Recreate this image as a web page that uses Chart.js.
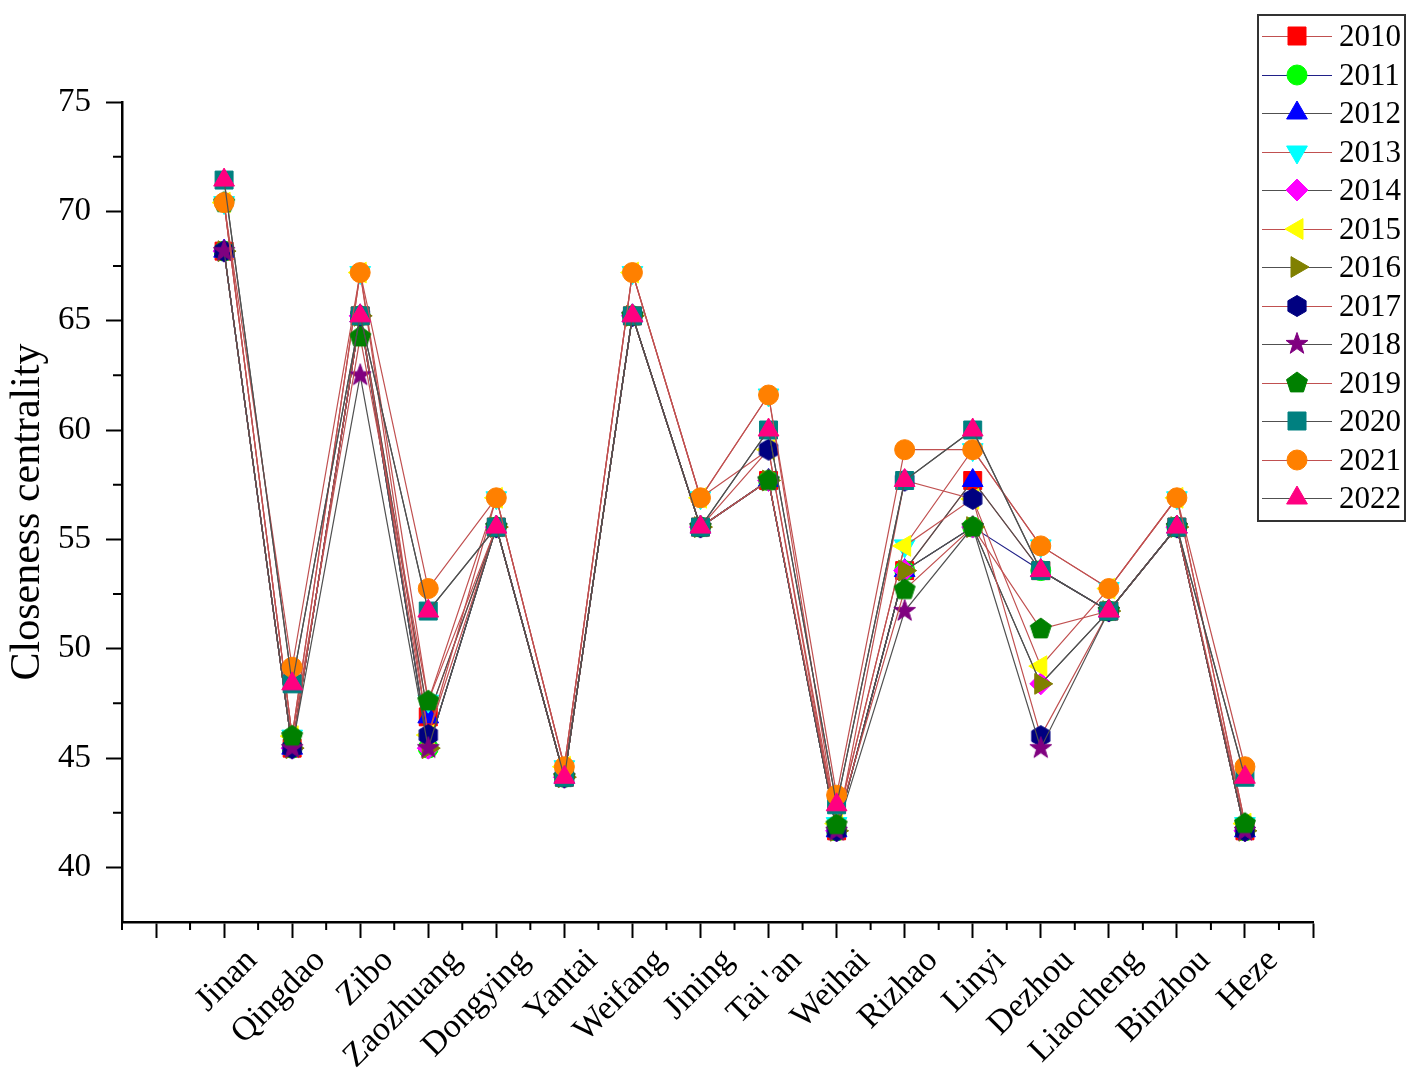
<!DOCTYPE html>
<html>
<head>
<meta charset="utf-8">
<title>Closeness centrality</title>
<script src="https://cdn.jsdelivr.net/npm/chart.js@4.4.1/dist/chart.umd.min.js"></script>
<style>
  html, body { margin: 0; padding: 0; background: #fff; }
  #wrap { position: relative; width: 1418px; height: 1078px; }
  #legend {
    position: absolute; left: 1257px; top: 14px; width: 145px; height: 503px;
    border: 2px solid #333; background: #fff;
    font-family: 'Liberation Serif', 'Times New Roman', serif; font-size: 31px; color: #000;
    padding-top: 1px; box-sizing: content-box;
  }
  .row { height: 38.5px; display: flex; align-items: center; }
  .row canvas { width: 76px; height: 38px; margin-left: 1px; }
  .row span { margin-left: 3px; line-height: 38px; }
</style>
</head>
<body>
<div id="wrap">
  <canvas id="grafik" width="1418" height="1078"></canvas>
  <div id="legend"></div>
</div>
<script>
// kota dan tahun
const cities = ["Jinan", "Qingdao", "Zibo", "Zaozhuang", "Dongying", "Yantai", "Weifang", "Jining",
    "Tai 'an", "Weihai", "Rizhao", "Linyi", "Dezhou", "Liaocheng", "Binzhou", "Heze"];
const years = ["2010", "2011", "2012", "2013", "2014", "2015", "2016", "2017", "2018", "2019", "2020", "2021", "2022"];

// nilai closeness centrality per tahun
const v2010 = [68.18, 45.45, 65.22, 46.88, 55.56, 44.12, 65.22, 55.56, 57.69, 41.67, 53.57, 57.69, 53.57, 51.72, 55.56, 41.67];
const v2011 = [68.18, 45.45, 65.22, 45.45, 55.56, 44.12, 65.22, 55.56, 57.69, 41.67, 53.57, 55.56, 53.57, 51.72, 55.56, 41.67];
const v2012 = [68.18, 45.45, 65.22, 46.88, 55.56, 44.12, 65.22, 55.56, 57.69, 41.67, 53.57, 57.69, 53.57, 51.72, 55.56, 41.67];
const v2013 = [70.40, 46.00, 67.20, 47.60, 56.90, 44.60, 67.20, 56.90, 61.60, 42.00, 54.70, 59.10, 54.70, 52.75, 56.90, 42.00];
const v2014 = [68.18, 45.45, 65.22, 45.45, 55.56, 44.12, 65.22, 55.56, 57.69, 41.67, 53.57, 55.56, 48.39, 51.72, 55.56, 41.67];
const v2015 = [70.40, 46.00, 67.20, 46.05, 56.90, 44.60, 67.20, 56.90, 59.10, 42.00, 54.70, 56.85, 49.20, 52.75, 56.90, 42.00];
const v2016 = [68.18, 45.45, 65.22, 45.45, 55.56, 44.12, 65.22, 55.56, 57.69, 41.67, 53.57, 55.56, 48.39, 51.72, 55.56, 41.67];
const v2017 = [68.18, 45.45, 65.22, 46.05, 55.56, 44.12, 65.22, 55.56, 59.10, 41.67, 57.69, 56.85, 46.00, 51.72, 55.56, 41.67];
const v2018 = [68.18, 45.45, 62.50, 45.45, 55.56, 44.12, 65.22, 55.56, 57.69, 41.67, 51.72, 55.56, 45.45, 51.72, 55.56, 41.67];
const v2019 = [70.40, 46.00, 64.25, 47.60, 55.56, 44.12, 65.22, 55.56, 57.69, 41.95, 52.70, 55.56, 50.90, 51.72, 55.56, 42.00];
const v2020 = [71.43, 48.39, 65.22, 51.72, 55.56, 44.12, 65.22, 55.56, 60.00, 42.86, 57.69, 60.00, 53.57, 51.72, 55.56, 44.12];
const v2021 = [70.40, 49.15, 67.20, 52.75, 56.90, 44.60, 67.20, 56.90, 61.60, 43.30, 59.10, 59.10, 54.70, 52.75, 56.90, 44.60];
const v2022 = [71.43, 48.39, 65.22, 51.72, 55.56, 44.12, 65.22, 55.56, 60.00, 42.86, 57.69, 60.00, 53.57, 51.72, 55.56, 44.12];
const allValues = [v2010, v2011, v2012, v2013, v2014, v2015, v2016, v2017, v2018, v2019, v2020, v2021, v2022];

// tick sumbu
const yTicks = [40, 45, 50, 55, 60, 65, 70, 75];
const yMinor = [42.5, 47.5, 52.5, 57.5, 62.5, 67.5, 72.5];

// gaya penanda (Origin style)
const RED = "#c05050", GRAY = "#505050", NAVY = "#202088";
const markers = [
    { shape: "rect", color: "#ff0000", line: RED },
    { shape: "circle", color: "#00ff00", line: NAVY },
    { shape: "tri", rot: 0, color: "#0000ff", line: GRAY },
    { shape: "tri", rot: 180, color: "#00ffff", line: RED },
    { shape: "diamond", color: "#ff00ff", line: GRAY },
    { shape: "tri", rot: 270, color: "#ffff00", line: RED },
    { shape: "tri", rot: 90, color: "#808000", line: GRAY },
    { shape: "hex", color: "#000080", line: RED },
    { shape: "star", color: "#800080", line: GRAY },
    { shape: "pent", color: "#008000", line: RED },
    { shape: "rect", color: "#008080", line: GRAY },
    { shape: "circle", color: "#ff8000", line: RED },
    { shape: "tri", rot: 0, color: "#ff0080", line: GRAY }
];

function polygon(ctx, cx, cy, r, n, startDeg) {
    ctx.beginPath();
    for (let i = 0; i < n; i++) {
        const a = (startDeg + i * 360 / n) * Math.PI / 180;
        const px = cx + Math.sin(a) * r, py = cy - Math.cos(a) * r;
        if (i === 0) ctx.moveTo(px, py); else ctx.lineTo(px, py);
    }
    ctx.closePath();
}

function drawMarker(ctx, m, cx, cy) {
    ctx.fillStyle = m.color;
    ctx.strokeStyle = m.color;
    ctx.lineWidth = 1;
    if (m.shape === "rect") {
        ctx.beginPath(); ctx.rect(cx - 9, cy - 9, 18, 18);
    } else if (m.shape === "circle") {
        ctx.beginPath(); ctx.arc(cx, cy, 10, 0, Math.PI * 2);
    } else if (m.shape === "tri") {
        polygon(ctx, cx, cy, 12, 3, m.rot);
    } else if (m.shape === "diamond") {
        polygon(ctx, cx, cy, 11, 4, 0);
    } else if (m.shape === "hex") {
        polygon(ctx, cx, cy, 10.5, 6, 0);
    } else if (m.shape === "pent") {
        polygon(ctx, cx, cy, 11, 5, 0);
    } else if (m.shape === "star") {
        ctx.beginPath();
        for (let i = 0; i < 10; i++) {
            const r = i % 2 === 0 ? 11.5 : 4.6;
            const a = i * 36 * Math.PI / 180;
            const px = cx + Math.sin(a) * r, py = cy - Math.cos(a) * r;
            if (i === 0) ctx.moveTo(px, py); else ctx.lineTo(px, py);
        }
        ctx.closePath();
    }
    ctx.fill();
    ctx.stroke();
}

function markerImage(m) {
    const c = document.createElement("canvas");
    c.width = 26; c.height = 26;
    drawMarker(c.getContext("2d"), m, 13, 13);
    return c;
}

function pointStyleFor(m) {
    if (m.shape === "rect") return { style: "rect", radius: 12.7, rot: 0 };
    if (m.shape === "circle") return { style: "circle", radius: 10, rot: 0 };
    if (m.shape === "tri") return { style: "triangle", radius: 12, rot: m.rot };
    if (m.shape === "diamond") return { style: "rectRot", radius: 11, rot: 0 };
    return { style: markerImage(m), radius: 11, rot: 0 };
}

const datasets = years.map((yr, i) => {
    const m = markers[i];
    const ps = pointStyleFor(m);
    return {
        label: yr,
        data: allValues[i].map((v, k) => ({ x: k + 1, y: v })),
        borderColor: m.line,
        borderWidth: 1.2,
        pointStyle: ps.style,
        pointRadius: ps.radius,
        pointRotation: ps.rot,
        pointBackgroundColor: m.color,
        pointBorderColor: m.color,
        pointBorderWidth: 1,
        pointHoverRadius: ps.radius,
        order: years.length - i,
        tension: 0
    };
});

// tick minor digambar sendiri (Origin punya tick pendek)
const minorTicks = {
    id: "minorTicks",
    afterDraw(chart) {
        const { ctx, scales } = chart;
        const x = scales.x, y = scales.y;
        ctx.save();
        ctx.strokeStyle = "#000";
        ctx.lineWidth = 2;
        ctx.beginPath();
        for (let v = -0.5; v < 17; v += 1) {
            const px = x.getPixelForValue(v);
            ctx.moveTo(px, x.top);
            ctx.lineTo(px, x.top + 8);
        }
        yMinor.forEach(v => {
            const py = y.getPixelForValue(v);
            ctx.moveTo(y.right, py);
            ctx.lineTo(y.right - 9, py);
        });
        ctx.stroke();
        ctx.restore();
    }
};

Chart.defaults.font.family = "'Liberation Serif', 'Times New Roman', serif";
Chart.defaults.color = "#000";

const ctx = document.getElementById("grafik").getContext("2d");
const chart = new Chart(ctx, {
    type: "line",
    data: { datasets },
    plugins: [minorTicks],
    options: {
        responsive: false,
        animation: false,
        layout: { padding: { left: 0, top: 102, right: 105, bottom: 0 } },
        plugins: {
            legend: { display: false },
            tooltip: { enabled: false }
        },
        scales: {
            x: {
                type: "linear",
                min: -0.5,
                max: 17,
                afterFit: s => { s.height = 156; },
                afterBuildTicks: s => {
                    s.ticks = [];
                    for (let v = 0; v <= 17; v++) s.ticks.push({ value: v });
                },
                grid: { drawOnChartArea: false, drawTicks: true, tickLength: 16, tickWidth: 2, tickColor: "#000" },
                border: { display: true, color: "#000", width: 2.5 },
                ticks: {
                    autoSkip: false,
                    maxRotation: 45,
                    minRotation: 45,
                    padding: 3,
                    labelOffset: 28,
                    font: { size: 34 },
                    callback: v => (v >= 1 && v <= 16 ? cities[v - 1] : "")
                }
            },
            y: {
                min: 37.5,
                max: 75,
                afterFit: s => { s.width = 122; },
                afterBuildTicks: s => { s.ticks = yTicks.map(v => ({ value: v })); },
                grid: { drawOnChartArea: false, drawTicks: true, tickLength: 16, tickWidth: 2, tickColor: "#000" },
                border: { display: true, color: "#000", width: 2.5 },
                ticks: { padding: 15, font: { size: 33 } },
                title: {
                    display: true,
                    text: "Closeness centrality",
                    font: { size: 42 },
                    padding: { top: 3, bottom: 0 }
                }
            }
        }
    }
});

// legenda kotak di kanan atas
const legend = document.getElementById("legend");
years.forEach((yr, i) => {
    const row = document.createElement("div");
    row.className = "row";
    const c = document.createElement("canvas");
    c.width = 76; c.height = 38;
    const g = c.getContext("2d");
    g.strokeStyle = markers[i].line;
    g.lineWidth = 1;
    g.beginPath(); g.moveTo(2, 19.5); g.lineTo(72, 19.5); g.stroke();
    drawMarker(g, markers[i], 37, 19);
    const t = document.createElement("span");
    t.textContent = yr;
    row.appendChild(c);
    row.appendChild(t);
    legend.appendChild(row);
});
</script>
</body>
</html>
